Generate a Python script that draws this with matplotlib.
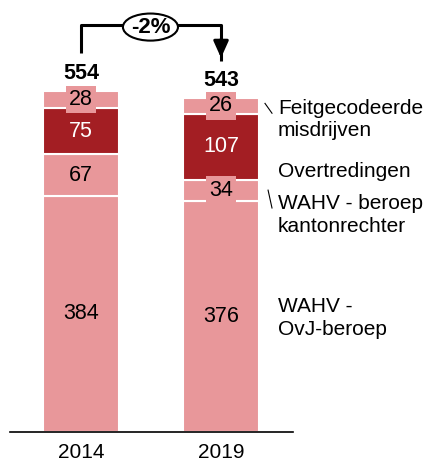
import matplotlib.pyplot as plt
from matplotlib.patches import Ellipse

plt.rcParams['font.family'] = ['Liberation Sans', 'DejaVu Sans']

# data
years = ['2014', '2019']
ovj = [384, 376]          # WAHV - OvJ-beroep
kanton = [67, 34]         # WAHV - beroep kantonrechter
overtr = [75, 107]        # Overtredingen
feit = [28, 26]           # Feitgecodeerde misdrijven
change = '-2%'

series = [ovj, kanton, overtr, feit]
names = ['WAHV -\nOvJ-beroep', 'WAHV - beroep\nkantonrechter',
         'Overtredingen', 'Feitgecodeerde\nmisdrijven']
label_y = [185, 353, 424, 508]

light = '#E8979A'
dark = '#A31E23'
colors = [light, light, dark, light]
txt_colors = ['black', 'black', 'white', 'black']

fig = plt.figure(figsize=(4.31, 4.62), dpi=100)
ax = fig.add_axes([10 / 431, 30 / 462, 283 / 431, 432 / 462])

x = [0, 1]
w = 0.543
bottom = [0, 0]
for vals, c, tc in zip(series, colors, txt_colors):
    ax.bar(x, vals, w, bottom=bottom, color=c, edgecolor='white', linewidth=1.5)
    for xi, v, b in zip(x, vals, bottom):
        bb = None
        if c == light:
            bb = dict(boxstyle='square,pad=0.15', facecolor=light, edgecolor='none')
        ax.text(xi, b + v / 2, str(v), ha='center', va='center', fontsize=15.5,
                color=tc, bbox=bb)
    bottom = [b + v for b, v in zip(bottom, vals)]

totals = bottom
for xi, t in zip(x, totals):
    ax.text(xi, t + 29, str(t), ha='center', va='center', fontsize=15.5,
            fontweight='bold')

# bracket with change
top_y = 661
ax.plot([0, 0, 1, 1], [totals[0] + 62, top_y, top_y, totals[1] + 60],
        color='black', lw=2.2, clip_on=False, solid_capstyle='butt')
ax.annotate('', xy=(1, totals[1] + 65), xytext=(1, totals[1] + 95),
            arrowprops=dict(arrowstyle='-|>,head_length=1.0,head_width=0.45',
                            color='black', lw=2.2, shrinkA=0, shrinkB=0))
ax.add_patch(Ellipse((0.496, top_y - 3), 0.393, 44, facecolor='white',
                     edgecolor='black', lw=1.5, clip_on=False, zorder=3))
ax.text(0.496, top_y - 3, change, ha='center', va='center', fontsize=16,
        fontweight='bold', zorder=4)

# right side labels
for n, yy in zip(names, label_y):
    ax.text(1.407, yy, n, ha='left', va='center', fontsize=15, linespacing=1.25)

# leader lines
ax.plot([1.314, 1.364], [534, 518], color='black', lw=0.8, clip_on=False)
ax.plot([1.336, 1.364], [393, 364], color='black', lw=0.8, clip_on=False)

ax.set_xlim(-0.507, 1.514)
ax.set_ylim(0, 702)
ax.set_xticks(x)
ax.set_xticklabels(years, fontsize=15)
ax.tick_params(axis='x', length=0, pad=8)
ax.set_yticks([])
for s in ['top', 'right', 'left']:
    ax.spines[s].set_visible(False)
ax.spines['bottom'].set_linewidth(1.2)

fig.savefig('out.png', dpi=100)
